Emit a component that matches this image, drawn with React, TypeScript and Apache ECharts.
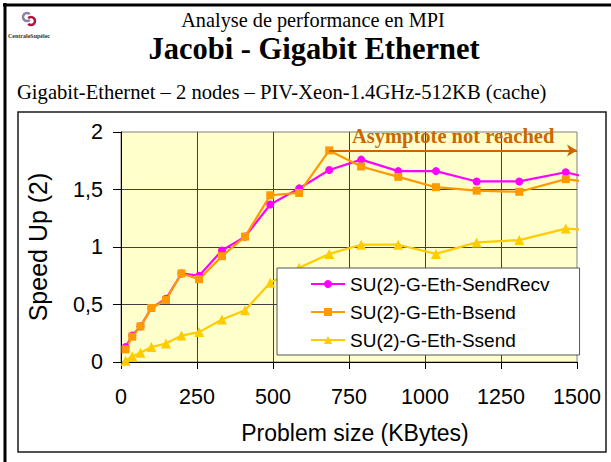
import React, { useEffect, useRef } from "react";
import * as echarts from "echarts";

// Problem sizes (KBytes); the last entry is where the lines are cut by the frame
const problemSizeKB = [15, 37, 64, 100, 148, 199, 257, 332, 408, 491, 586, 685, 790, 912, 1036, 1170, 1310, 1463, 1520];
const speedUpSendRecv = [0.13, 0.23, 0.31, 0.47, 0.55, 0.77, 0.75, 0.97, 1.09, 1.37, 1.51, 1.67, 1.76, 1.66, 1.66, 1.57, 1.57, 1.65, 1.615];
const speedUpBsend = [0.11, 0.22, 0.31, 0.47, 0.54, 0.77, 0.72, 0.92, 1.09, 1.45, 1.47, 1.84, 1.7, 1.61, 1.52, 1.49, 1.48, 1.59, 1.571];
const speedUpSsend = [0.01, 0.05, 0.08, 0.13, 0.16, 0.23, 0.26, 0.37, 0.45, 0.69, 0.82, 0.94, 1.02, 1.02, 0.94, 1.04, 1.06, 1.16, 1.152];

const seriesNames = ["SU(2)-G-Eth-SendRecv", "SU(2)-G-Eth-Bsend", "SU(2)-G-Eth-Ssend"];
const seriesValues = [speedUpSendRecv, speedUpBsend, speedUpSsend];
const seriesColors = ["#ff00ff", "#ff9900", "#ffcc00"];
const seriesSymbols = ["circle", "rect", "triangle"];
const seriesSymbolSizes = [8, 8, 10];

const xAxisRange = { min: 0, max: 1500, interval: 250 };
const yAxisRange = { min: 0, max: 2, interval: 0.5 };

const asymptoteFromIndex = 11;
const asymptoteToKB = 1500;
const asymptoteLabel = "Asymptote not reached";

const headerTitle = "Analyse de performance en MPI";
const mainTitle = "Jacobi - Gigabit Ethernet";
const subTitle = "Gigabit-Ethernet \u2013 2 nodes \u2013 PIV-Xeon-1.4GHz-512KB (cache)";
const xAxisName = "Problem size (KBytes)";
const yAxisName = "Speed Up (2)";
const logoText = "CentraleSup\u00e9lec";

const SANS = "Liberation Sans, Arial, sans-serif";
const SERIF = "Liberation Serif, Times New Roman, serif";

export default function App() {
  const ref = useRef<HTMLDivElement>(null);

  useEffect(() => {
    if (!ref.current) return;
    const chart = echarts.init(ref.current, null, { renderer: "svg" });
    const lastIdx = problemSizeKB.length - 1;

    const series: any[] = seriesNames.map((name, si) => ({
      name,
      type: "line",
      clip: false,
      symbol: seriesSymbols[si],
      symbolSize: seriesSymbolSizes[si],
      itemStyle: { color: seriesColors[si] },
      lineStyle: { color: seriesColors[si], width: 2.2 },
      data: problemSizeKB.map((x, i) =>
        i === lastIdx ? { value: [x, seriesValues[si][i]], symbol: "none" } : [x, seriesValues[si][i]]
      ),
    }));

    series[1].markLine = {
      silent: true,
      symbol: ["none", "arrow"],
      symbolSize: [9, 10],
      lineStyle: { color: "#cc6600", width: 2, type: "solid" },
      label: {
        show: true,
        position: "insideMiddleTop",
        distance: 4,
        formatter: asymptoteLabel,
        color: "#cc6600",
        fontFamily: SERIF,
        fontWeight: "bold",
        fontSize: 20.5,
      },
      data: [
        [
          { coord: [problemSizeKB[asymptoteFromIndex], speedUpBsend[asymptoteFromIndex]], symbol: "none" },
          { coord: [asymptoteToKB, speedUpBsend[asymptoteFromIndex]], symbol: "arrow" },
        ],
      ],
    };

    const option: any = {
      animation: false,
      backgroundColor: "#ffffff",
      grid: {
        left: 121,
        right: 34,
        top: 132,
        bottom: 100,
        show: true,
        backgroundColor: "#ffffcc",
        borderColor: "#808080",
        borderWidth: 1,
      },
      legend: {
        data: seriesNames,
        orient: "vertical",
        left: 277,
        top: 268,
        padding: [6, 30, 5, 33],
        itemWidth: 34,
        itemHeight: 10,
        itemGap: 8,
        backgroundColor: "#ffffff",
        borderColor: "#555555",
        borderWidth: 1,
        textStyle: { fontFamily: SANS, fontSize: 19, color: "#000", lineHeight: 20 },
      },
      xAxis: {
        type: "value",
        min: xAxisRange.min,
        max: xAxisRange.max,
        interval: xAxisRange.interval,
        name: xAxisName,
        nameLocation: "middle",
        nameGap: 59,
        nameTextStyle: { fontFamily: SANS, fontSize: 23, color: "#000", padding: [0, 0, 0, 12] },
        axisLine: { show: true, lineStyle: { color: "#000", width: 1 } },
        axisTick: { show: true, inside: false, length: 7, lineStyle: { color: "#000" } },
        axisLabel: {
          fontFamily: SANS,
          fontSize: 21.5,
          color: "#000",
          margin: 24,
          formatter: (v: number) => String(v),
        },
        splitLine: { show: true, showMaxLine: false, lineStyle: { color: "#404040", width: 1 } },
      },
      yAxis: {
        type: "value",
        min: yAxisRange.min,
        max: yAxisRange.max,
        interval: yAxisRange.interval,
        name: yAxisName,
        nameLocation: "middle",
        nameRotate: 90,
        nameGap: 71,
        nameTextStyle: { fontFamily: SANS, fontSize: 25, color: "#000" },
        axisLine: { show: true, lineStyle: { color: "#000", width: 1 } },
        axisTick: { show: true, inside: false, length: 8, lineStyle: { color: "#000" } },
        axisLabel: {
          fontFamily: SANS,
          fontSize: 21.5,
          color: "#000",
          margin: 18,
          formatter: (v: number) => String(v).replace(".", ","),
        },
        splitLine: { show: true, showMaxLine: false, lineStyle: { color: "#404040", width: 1 } },
      },
      graphic: [
        { type: "line", shape: { x1: 3, y1: 5, x2: 611, y2: 5 }, style: { stroke: "#000", lineWidth: 3 } },
        { type: "line", shape: { x1: 5, y1: 3, x2: 5, y2: 462 }, style: { stroke: "#000", lineWidth: 3 } },
        {
          type: "rect",
          shape: { x: 18, y: 112, width: 588, height: 340 },
          style: { fill: "none", stroke: "#1a1a1a", lineWidth: 1.5 },
        },
        {
          type: "arc",
          shape: { cx: 27, cy: 17, r: 4, startAngle: Math.PI * 0.25, endAngle: Math.PI * 1.75 },
          style: { stroke: "#8a80a8", lineWidth: 2.5, fill: "none" },
        },
        {
          type: "arc",
          shape: { cx: 31, cy: 21, r: 4, startAngle: -Math.PI * 0.75, endAngle: Math.PI * 0.75 },
          style: { stroke: "#b3143c", lineWidth: 2.5, fill: "none" },
        },
        {
          type: "text",
          x: 29,
          y: 36,
          style: {
            text: logoText,
            fontFamily: SERIF,
            fontSize: 6,
            fontWeight: "bold",
            fill: "#333",
            align: "center",
            verticalAlign: "middle",
            textAlign: "center",
            textVerticalAlign: "middle",
          },
        },
        {
          type: "text",
          x: 313,
          y: 20,
          style: {
            text: headerTitle,
            fontFamily: SERIF,
            fontSize: 20.3,
            fill: "#000",
            align: "center",
            verticalAlign: "middle",
            textAlign: "center",
            textVerticalAlign: "middle",
          },
        },
        {
          type: "text",
          x: 314,
          y: 49,
          style: {
            text: mainTitle,
            fontFamily: SERIF,
            fontSize: 30.5,
            fontWeight: "bold",
            fill: "#000",
            align: "center",
            verticalAlign: "middle",
            textAlign: "center",
            textVerticalAlign: "middle",
          },
        },
        {
          type: "text",
          x: 17,
          y: 92,
          style: {
            text: subTitle,
            fontFamily: SERIF,
            fontSize: 20.6,
            fill: "#000",
            align: "left",
            verticalAlign: "middle",
            textAlign: "left",
            textVerticalAlign: "middle",
          },
        },
      ],
      series,
    };

    chart.setOption(option);
    return () => chart.dispose();
  }, []);

  return (
    <div
      ref={ref}
      style={{ position: "fixed", left: 0, top: 0, width: 611, height: 462, background: "#fff" }}
    />
  );
}
